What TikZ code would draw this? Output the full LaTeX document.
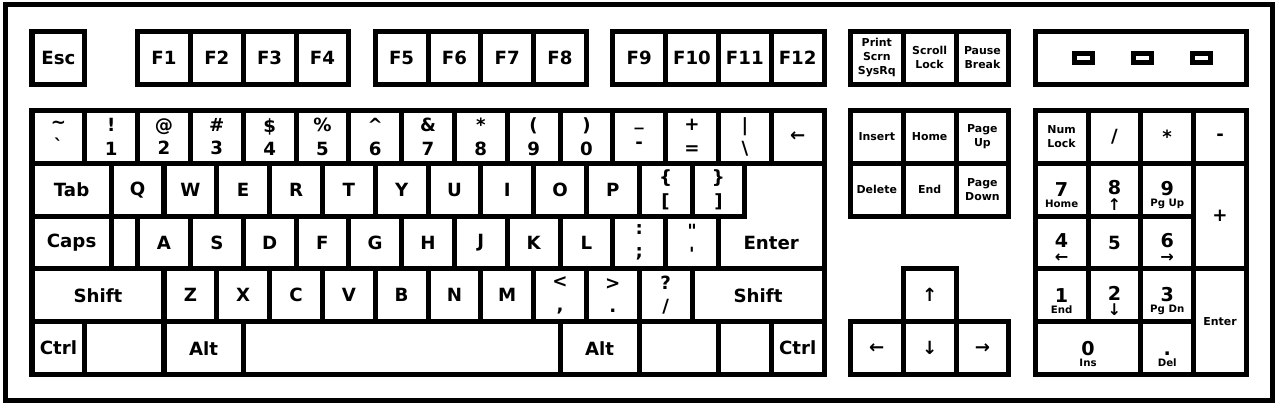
\documentclass[tikz,border=0pt]{standalone}
\usepackage{fontspec}
\setmainfont{DejaVu Sans}
\newcommand\keyfont{\fontsize{9.8}{12.6}\selectfont\bfseries}
\newcommand\smallkeyfont{\fontsize{5.9}{7.4}\selectfont\bfseries}
\newcommand\padsubfont{\fontsize{5.5}{5.8}\selectfont\bfseries}
\newcommand\padnumfont{\fontsize{10.3}{5.8}\selectfont\rule{0pt}{13.7pt}}
\newcommand\padarrow[1]{{\fontsize{8.7}{5.8}\selectfont\smash{#1}}}
\begin{document}
\begin{tikzpicture}[x=1.0cm,y=1.0cm,
  key/.style={draw, line width=2.7pt, minimum width=1cm, minimum height=1cm, inner sep=0pt, align=center, font=\keyfont},
  smallkey/.style={key, font=\smallkeyfont},
  padkey/.style={key, font=\padsubfont},
  case/.style={draw, line width=2.7pt, inner sep=0pt},
  led/.style={draw, line width=2.7pt, minimum width=0.34cm, minimum height=0.17cm, inner sep=0pt}]
\useasboundingbox (-0.606,-5.616) rectangle (23.636,2.093);

\node[case, minimum width=24cm, minimum height=7.5cm] (case) at (11.5,-1.75) {};

% function row
\node[key] (esc) at (0.5,1) {Esc};
\node[key] (f1) at (2.5,1) {F1};
\node[key] (f2) at (3.5,1) {F2};
\node[key] (f3) at (4.5,1) {F3};
\node[key] (f4) at (5.5,1) {F4};
\node[key] (f5) at (7,1) {F5};
\node[key] (f6) at (8,1) {F6};
\node[key] (f7) at (9,1) {F7};
\node[key] (f8) at (10,1) {F8};
\node[key] (f9) at (11.5,1) {F9};
\node[key] (f10) at (12.5,1) {F10};
\node[key] (f11) at (13.5,1) {F11};
\node[key] (f12) at (14.5,1) {F12};
\node[smallkey] (prtsc) at (16,1) {Print\\Scrn\\SysRq};
\node[smallkey] (scrlk) at (17,1) {Scroll\\Lock};
\node[smallkey] (pause) at (18,1) {Pause\\Break};
\node[key, minimum width=4cm] (ledpanel) at (21,1) {};
\node[led] (led1) at (19.92,1) {};
\node[led] (led2) at (21.03,1) {};
\node[led] (led3) at (22.14,1) {};

% number row
\node[key] (tilde) at (0.5,-0.5) {\textasciitilde\\\textasciigrave};
\node[key] (one) at (1.5,-0.5) {!\\1};
\node[key] (two) at (2.5,-0.5) {@\\2};
\node[key] (three) at (3.5,-0.5) {\#\\3};
\node[key] (four) at (4.5,-0.5) {\$\\4};
\node[key] (five) at (5.5,-0.5) {\%\\5};
\node[key] (six) at (6.5,-0.5) {\textasciicircum\\6};
\node[key] (seven) at (7.5,-0.5) {\&\\7};
\node[key] (eight) at (8.5,-0.5) {*\\8};
\node[key] (nine) at (9.5,-0.5) {(\\9};
\node[key] (zero) at (10.5,-0.5) {)\\0};
\node[key] (minus) at (11.5,-0.5) {\_\\-};
\node[key] (equal) at (12.5,-0.5) {+\\=};
\node[key] (bslash) at (13.5,-0.5) {\textbar\\\textbackslash};
\node[key] (bksp) at (14.5,-0.5) {←};
\node[smallkey] (ins) at (16,-0.5) {Insert};
\node[smallkey] (home) at (17,-0.5) {Home};
\node[smallkey] (pgup) at (18,-0.5) {Page\\Up};
\node[smallkey] (numlk) at (19.5,-0.5) {Num\\Lock};
\node[key] (kpdiv) at (20.5,-0.5) {/};
\node[key] (kpmul) at (21.5,-0.5) {*};
\node[key] (kpsub) at (22.5,-0.5) {-};

% top letter row
\node[key, minimum width=1.5cm] (tab) at (0.75,-1.5) {Tab};
\node[key] (q) at (2,-1.5) {Q};
\node[key] (w) at (3,-1.5) {W};
\node[key] (e) at (4,-1.5) {E};
\node[key] (r) at (5,-1.5) {R};
\node[key] (t) at (6,-1.5) {T};
\node[key] (y) at (7,-1.5) {Y};
\node[key] (u) at (8,-1.5) {U};
\node[key] (i) at (9,-1.5) {I};
\node[key] (o) at (10,-1.5) {O};
\node[key] (p) at (11,-1.5) {P};
\node[key] (lbrack) at (12,-1.5) {\{\\{}[};
\node[key] (rbrack) at (13,-1.5) {\}\\{}]};
\node[smallkey] (del) at (16,-1.5) {Delete};
\node[smallkey] (end) at (17,-1.5) {End};
\node[smallkey] (pgdn) at (18,-1.5) {Page\\Down};
\node[padkey] (kp7) at (19.5,-1.5) {{\padnumfont 7}\\Home};
\node[padkey] (kp8) at (20.5,-1.5) {{\padnumfont 8}\\[2.7pt]\padarrow{↑}};
\node[padkey] (kp9) at (21.5,-1.5) {{\padnumfont 9}\\Pg Up};
\node[key, minimum height=2cm] (kpadd) at (22.5,-2) {+};

% home row
\node[key, minimum width=1.5cm] (caps) at (0.75,-2.5) {Caps};
\node[key, minimum width=0.5cm] (capsgap) at (1.75,-2.5) {};
\node[key] (a) at (2.5,-2.5) {A};
\node[key] (s) at (3.5,-2.5) {S};
\node[key] (d) at (4.5,-2.5) {D};
\node[key] (f) at (5.5,-2.5) {F};
\node[key] (g) at (6.5,-2.5) {G};
\node[key] (h) at (7.5,-2.5) {H};
\node[key] (j) at (8.5,-2.5) {J};
\node[key] (k) at (9.5,-2.5) {K};
\node[key] (l) at (10.5,-2.5) {L};
\node[key] (semi) at (11.5,-2.5) {:\\;};
\node[key] (quote) at (12.5,-2.5) {\textquotedbl\\\textquotesingle};
\draw[line width=2.7pt] (13.5,-1) -- (15,-1) -- (15,-3) -- (13,-3) -- (13,-2) -- (13.5,-2) -- cycle;
\node[font=\keyfont] (enter) at (14,-2.5) {Enter};
\node[padkey] (kp4) at (19.5,-2.5) {{\padnumfont 4}\\[2pt]\padarrow{←}};
\node[key] (kp5) at (20.5,-2.5) {5};
\node[padkey] (kp6) at (21.5,-2.5) {{\padnumfont 6}\\[2pt]\padarrow{→}};

% bottom letter row
\node[key, minimum width=2.5cm] (lshift) at (1.25,-3.5) {Shift};
\node[key] (z) at (3,-3.5) {Z};
\node[key] (x) at (4,-3.5) {X};
\node[key] (c) at (5,-3.5) {C};
\node[key] (v) at (6,-3.5) {V};
\node[key] (b) at (7,-3.5) {B};
\node[key] (n) at (8,-3.5) {N};
\node[key] (m) at (9,-3.5) {M};
\node[key] (comma) at (10,-3.5) {<\\,};
\node[key] (period) at (11,-3.5) {>\\.};
\node[key] (slash) at (12,-3.5) {?\\/};
\node[key, minimum width=2.5cm] (rshift) at (13.75,-3.5) {Shift};
\node[key] (up) at (17,-3.5) {↑};
\node[padkey] (kp1) at (19.5,-3.5) {{\padnumfont 1}\\End};
\node[padkey] (kp2) at (20.5,-3.5) {{\padnumfont 2}\\[2.7pt]\padarrow{↓}};
\node[padkey] (kp3) at (21.5,-3.5) {{\padnumfont 3}\\Pg Dn};
\node[smallkey, minimum height=2cm] (kpenter) at (22.5,-4) {Enter};

% space row
\node[key] (lctrl) at (0.5,-4.5) {Ctrl};
\node[key, minimum width=1.5cm] (lwin) at (1.75,-4.5) {};
\node[key, minimum width=1.5cm] (lalt) at (3.25,-4.5) {Alt};
\node[key, minimum width=6cm] (space) at (7,-4.5) {};
\node[key, minimum width=1.5cm] (ralt) at (10.75,-4.5) {Alt};
\node[key, minimum width=1.5cm] (rwin) at (12.25,-4.5) {};
\node[key] (menu) at (13.5,-4.5) {};
\node[key] (rctrl) at (14.5,-4.5) {Ctrl};
\node[key] (left) at (16,-4.5) {←};
\node[key] (down) at (17,-4.5) {↓};
\node[key] (right) at (18,-4.5) {→};
\node[padkey, minimum width=2cm] (kp0) at (20,-4.5) {{\padnumfont 0}\\Ins};
\node[padkey] (kpdot) at (21.5,-4.5) {{\padnumfont .}\\Del};
\end{tikzpicture}
\end{document}
